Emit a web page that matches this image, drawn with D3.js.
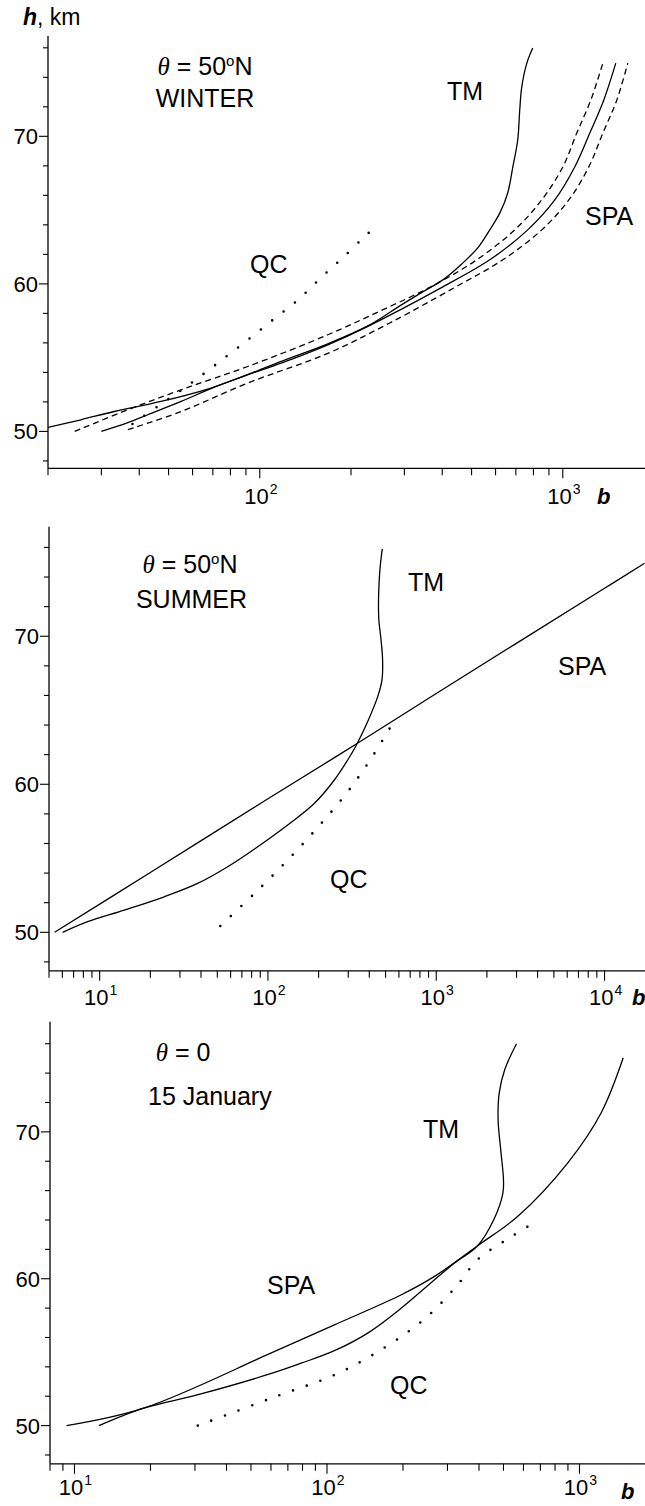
<!DOCTYPE html>
<html>
<head>
<meta charset="utf-8">
<script src="https://cdn.jsdelivr.net/npm/d3@7"></script>
<style>
  html, body { margin: 0; padding: 0; background: #fff; }
  svg { display: block; }
  text { font-family: "Liberation Sans", Arial, sans-serif; fill: #000; }
</style>
</head>
<body>
<script>
// ---- Data: b (log scale) versus altitude h, km ----

// 50N winter
const winterTM = [[20,50.27],[25.7,50.79],[33.1,51.35],[47.2,52.03],[67.3,52.87],[85.9,53.64],[116.4,54.72],[167.7,55.94],[230.7,57.22],[289.8,58.51],[345,59.46],[402,60.27],[464,61.35],[524,62.44],[574,63.66],[620,64.81],[658,66.16],[684,67.92],[710,69.75],[721,71.78],[732,73.34],[761,74.96],[796,75.98]];
const winterSPA = [[30,50],[36.7,50.59],[42.7,51.13],[55,52.03],[70.8,53],[91.3,53.84],[117.6,54.63],[167.7,55.87],[225.6,57.09],[402,59.8],[574,61.63],[766,63.66],[941,65.69],[1095,67.92],[1228,70.22],[1365,72.45],[1496,74.96]];
const winterSPAlow = [[24.5,50],[36.7,51.47],[55,52.82],[91.3,54.4],[167.7,56.55],[248.9,58.15],[366.8,59.8],[520,61.63],[694,63.66],[852,65.69],[1000,67.92],[1112,70.22],[1237,72.45],[1356,74.96]];
const winterSPAhigh = [[36.7,50.12],[55,51.35],[91.3,53.28],[167.7,55.29],[268.5,57.35],[443.6,59.8],[634,61.63],[852,63.66],[1047,65.69],[1218,67.92],[1356,70.22],[1507,72.45],[1639,74.96]];
const winterQC = [[38,50.5],[47.2,51.85],[56.4,52.94],[66.8,54.06],[79.4,55.24],[94.3,56.43],[112.3,57.68],[133.5,58.9],[158.6,60.39],[188.5,61.8],[223,63.25],[243.8,63.97]];

// 50N summer
const summerTM = [[6.03,50],[8.48,50.72],[14.0,51.5],[24.2,52.4],[38.2,53.3],[57.6,54.43],[86.9,55.78],[131,57.25],[189,58.72],[248,60.29],[297.6,61.64],[333,62.59],[391,64.23],[449,65.92],[476,67.05],[480,68.4],[470,69.75],[455,71.3],[461,74.26],[478,75.9]];
const summerSPA = [[5.4,50],[20,54.04],[100,59.02],[333,62.7],[1000,66.13],[10000,73.24],[17300,74.93]];
const summerQC = [[52.1,50.43],[82.6,52.59],[130.5,54.86],[199.4,57.14],[294.8,59.43],[409.6,61.73],[545.6,64.03]];

// Equator, 15 January
const januaryTM = [[12.5,50],[18.8,51.19],[30.6,52.09],[60.2,53.55],[79.1,54.25],[107,55.1],[145,56.3],[197,58.0],[266.6,59.93],[320,61.07],[395,62.25],[457,64.0],[497,65.8],[500,66.75],[489,68.57],[476,70.84],[481,72.66],[506,74.25],[563,76]];
const januarySPA = [[9.3,50],[18.8,51.19],[60.2,54.95],[107,56.86],[197,58.91],[266.6,60.16],[395,62.25],[570,64.25],[899,67.89],[1219,71.3],[1490,75.04]];
const januaryQC = [[30.8,50],[60.2,51.87],[118.4,53.8],[232.6,56.98],[326,59.5],[395,61.3],[542,62.9],[687,64.0]];

// Axis ticks
const hTicks = [48,50,52,54,56,58,60,62,64,66,68,70,72,74,76];
const hLabels = [50,60,70];
const winterDecades = [2,3];
const summerDecades = [1,2,3,4];
const januaryDecades = [1,2,3];

// ---- Drawing ----
const W = 645, H = 1506;
const svg = d3.select("body").append("svg").attr("width", W).attr("height", H);

const panels = [
  { id: "winter", xDomain: [20, 2000], xRange: [48, 654], yDomain: [47.5, 76.8], yRange: [468.3, 36],
    decades: winterDecades, labelBase: 504,
    lines: [
      { data: winterSPAlow, style: "dash" },
      { data: winterSPAhigh, style: "dash" },
      { data: winterSPA, style: "solid" },
      { data: winterTM, style: "solid" },
      { data: winterQC, style: "dot" }
    ],
    notes: [
      { kind: "theta", text: "50", deg: true, x: 205, y: 75 },
      { text: "WINTER", x: 205, y: 106.7, anchor: "middle" },
      { text: "TM", x: 447, y: 100 },
      { text: "SPA", x: 585, y: 225 },
      { text: "QC", x: 250, y: 273 }
    ],
    bLabel: { x: 597, y: 504 } },
  { id: "summer", xDomain: [5, 20000], xRange: [49, 655.2], yDomain: [47.4, 77.4], yRange: [970.8, 526.7],
    decades: summerDecades, labelBase: 1005,
    lines: [
      { data: summerSPA, style: "solid" },
      { data: summerTM, style: "solid" },
      { data: summerQC, style: "dot" }
    ],
    notes: [
      { kind: "theta", text: "50", deg: true, x: 190, y: 573 },
      { text: "SUMMER", x: 191.5, y: 608.3, anchor: "middle" },
      { text: "TM", x: 408, y: 590.7 },
      { text: "SPA", x: 558, y: 675 },
      { text: "QC", x: 330, y: 888 }
    ],
    bLabel: { x: 632, y: 1005 } },
  { id: "january", xDomain: [8, 2000], xRange: [50, 655.5], yDomain: [47.4, 77.5], yRange: [1463.8, 1021.7],
    decades: januaryDecades, labelBase: 1495,
    lines: [
      { data: januarySPA, style: "solid" },
      { data: januaryTM, style: "solid" },
      { data: januaryQC, style: "dot" }
    ],
    notes: [
      { kind: "theta", text: "0", deg: false, x: 183, y: 1060.7 },
      { text: "15 January", x: 148, y: 1105 },
      { text: "TM", x: 423, y: 1138 },
      { text: "SPA", x: 267, y: 1294 },
      { text: "QC", x: 390, y: 1394 }
    ],
    bLabel: { x: 621, y: 1499 } }
];

const labelFont = 25;
const tickFont = 22;

panels.forEach(p => {
  const x = d3.scaleLog().domain(p.xDomain).range(p.xRange);
  const y = d3.scaleLinear().domain(p.yDomain).range(p.yRange);
  const g = svg.append("g");
  const x0 = p.xRange[0], yB = p.yRange[0], yT = p.yRange[1];

  // plot-area clip
  g.append("clipPath").attr("id", "clip-" + p.id)
    .append("rect").attr("x", x0).attr("y", yT - 5).attr("width", W - x0).attr("height", yB - yT + 5);

  // y axis
  g.append("line").attr("x1", x0).attr("x2", x0).attr("y1", yB).attr("y2", yT)
    .attr("stroke", "#000").attr("stroke-width", 1.3);
  hTicks.forEach(h => {
    const major = hLabels.includes(h);
    g.append("line").attr("x1", x0 - (major ? 9 : 5)).attr("x2", x0)
      .attr("y1", y(h)).attr("y2", y(h)).attr("stroke", "#000").attr("stroke-width", 1.1);
  });
  hLabels.forEach(h => {
    g.append("text").attr("x", x0 - 10).attr("y", y(h) + 8).attr("text-anchor", "end")
      .attr("font-size", tickFont).text(h);
  });

  // x axis
  g.append("line").attr("x1", x0).attr("x2", W).attr("y1", yB).attr("y2", yB)
    .attr("stroke", "#000").attr("stroke-width", 1.3);
  x.ticks().forEach(v => {
    const lg = Math.log10(v);
    const major = Math.abs(lg - Math.round(lg)) < 1e-9;
    g.append("line").attr("x1", x(v)).attr("x2", x(v)).attr("y1", yB).attr("y2", yB + (major ? 10 : 7))
      .attr("stroke", "#000").attr("stroke-width", 1.1);
  });
  p.decades.forEach(e => {
    const t = g.append("text").attr("x", x(Math.pow(10, e)) + 1).attr("y", p.labelBase)
      .attr("text-anchor", "middle").attr("font-size", tickFont);
    t.append("tspan").text("10");
    t.append("tspan").attr("font-size", 14).attr("dy", -10).attr("dx", 1).text(e);
  });
  g.append("text").attr("x", p.bLabel.x).attr("y", p.bLabel.y)
    .attr("font-size", tickFont).attr("font-weight", "bold").attr("font-style", "italic").text("b");

  // curves
  const line = d3.line().x(d => x(d[0])).y(d => y(d[1])).curve(d3.curveCatmullRom.alpha(0.5));
  const cg = g.append("g").attr("clip-path", "url(#clip-" + p.id + ")");
  p.lines.forEach(l => {
    const path = cg.append("path").datum(l.data).attr("d", line)
      .attr("fill", "none").attr("stroke", "#000");
    if (l.style === "solid") path.attr("stroke-width", 1.3);
    if (l.style === "dash") path.attr("stroke-width", 1.3).attr("stroke-dasharray", "6 4");
    if (l.style === "dot") path.attr("stroke-width", 2.6).attr("stroke-linecap", "round")
      .attr("stroke-dasharray", "0 14.5");
  });

  // annotations
  p.notes.forEach(n => {
    if (n.kind === "theta") {
      const t = g.append("text").attr("x", n.x).attr("y", n.y).attr("text-anchor", "middle")
        .attr("font-size", labelFont);
      t.append("tspan").attr("font-family", "'Liberation Serif', 'Times New Roman', serif")
        .attr("font-style", "italic").text("\u03B8");
      t.append("tspan").text(" = " + n.text);
      if (n.deg) {
        t.append("tspan").attr("font-size", 15).attr("dy", -9).text("o");
        t.append("tspan").attr("dy", 9).text("N");
      }
    } else {
      g.append("text").attr("x", n.x).attr("y", n.y).attr("text-anchor", n.anchor || "start")
        .attr("font-size", labelFont).text(n.text);
    }
  });
});

// vertical axis title
const title = svg.append("text").attr("x", 23).attr("y", 25).attr("font-size", 23);
title.append("tspan").attr("font-style", "italic").attr("font-weight", "bold").text("h");
title.append("tspan").text(", km");
</script>
</body>
</html>
